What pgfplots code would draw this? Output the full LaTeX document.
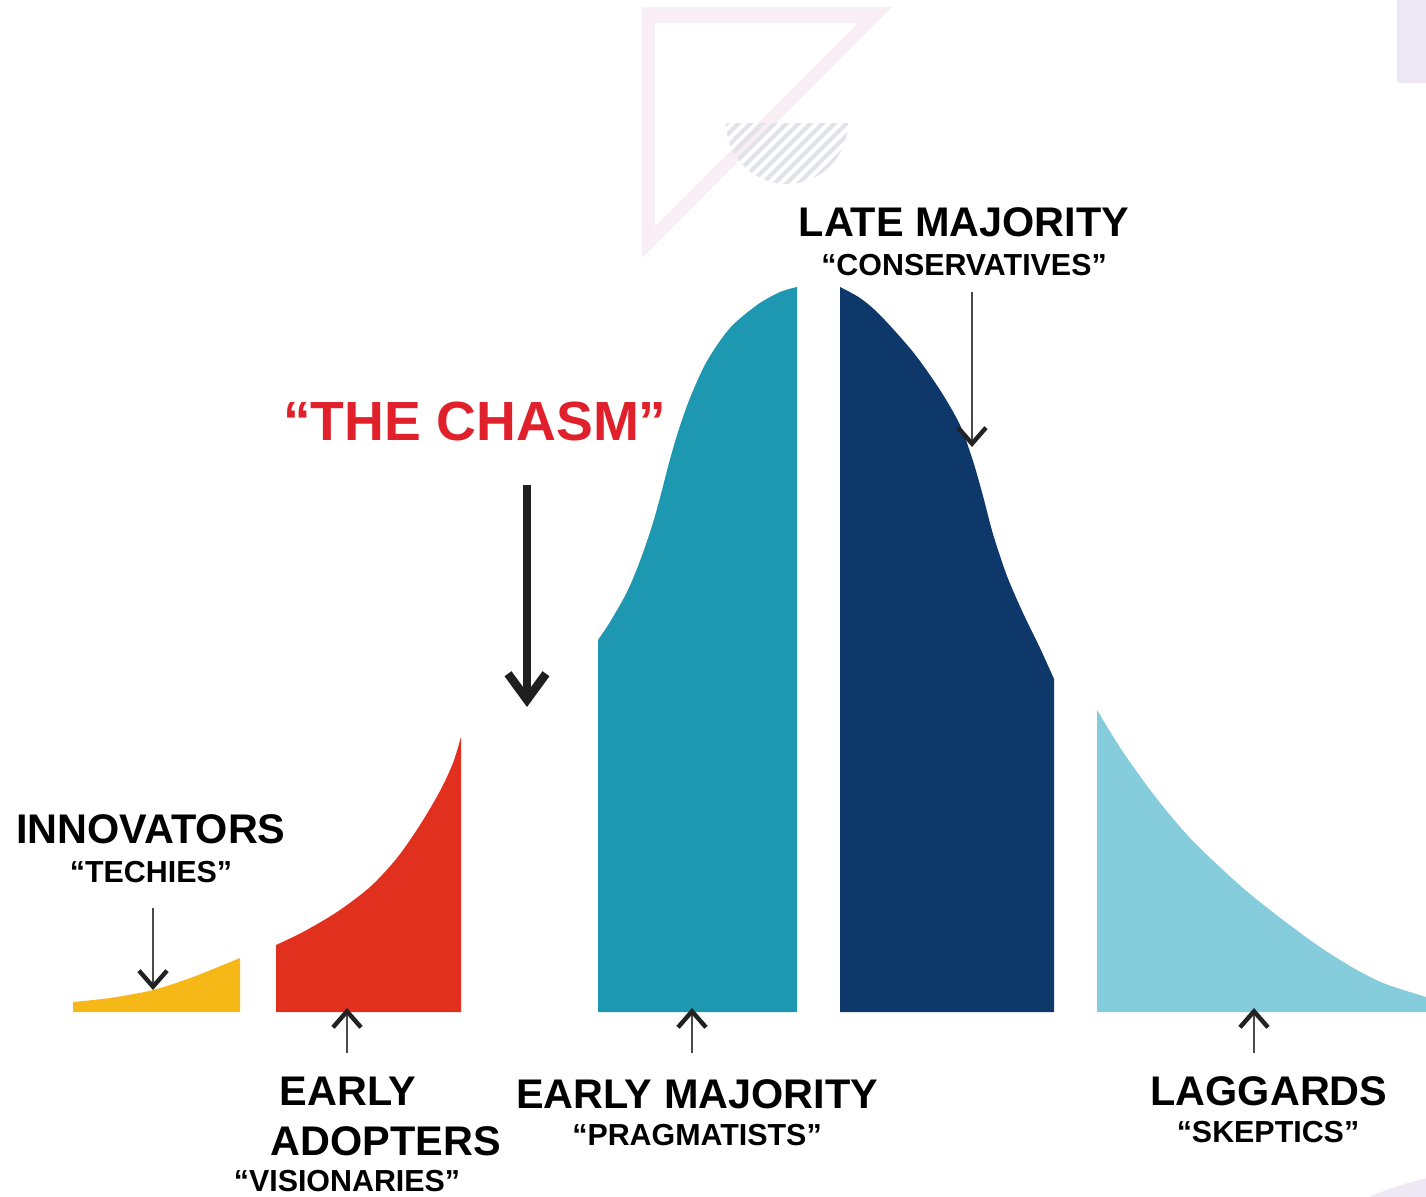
\documentclass[border=0pt]{standalone}
\usepackage{fontspec}
\setmainfont{Liberation Sans}
\usepackage{pgfplots}
\pgfplotsset{compat=1.18}
\usetikzlibrary{arrows.meta}
\definecolor{cYel}{HTML}{F5B817}
\definecolor{cRed}{HTML}{E2301F}
\definecolor{cTeal}{HTML}{1E98B0}
\definecolor{cNavy}{HTML}{0E376A}
\definecolor{cLight}{HTML}{85CDDD}
\definecolor{cChasm}{HTML}{E0202A}
\definecolor{cPink}{HTML}{F8EEF4}
\definecolor{cHatch}{HTML}{E2E2EA}
\definecolor{cLav}{HTML}{EEE8F5}
\definecolor{cShaft}{HTML}{4A4A4A}
\definecolor{cHead}{HTML}{222222}
\newcommand{\biglab}{\fontsize{20.7}{24}\bfseries\selectfont}
\newcommand{\sublab}{\fontsize{15.2}{18}\bfseries\selectfont}
\tikzset{thinarrow/.style={cShaft, line width=1.2pt, -{Straight Barb[length=8pt,width=14pt,line width=2.2pt,color=cHead]}}}
\begin{document}
\begin{tikzpicture}
\begin{axis}[
  scale only axis, width=713pt, height=598pt,
  xmin=0, xmax=1426, ymin=-184, ymax=1012,
  hide axis, clip=false]
% decorations
\fill[cPink, even odd rule] (axis cs:642,1005) -- (axis cs:892,1005) -- (axis cs:642,754) -- cycle
  (axis cs:655,989) -- (axis cs:858,989) -- (axis cs:655,785) -- cycle;
\begin{scope}
\clip (axis cs:726,889) arc[start angle=180, end angle=360, radius=30.5pt] -- cycle;
\pgfplotsinvokeforeach{-132,-120,-108,-96,-84,-72,-60,-48,-36,-24,-12,0,12,24,36,48,60,72,84,96,108,120,132}{
  \draw[cHatch, line width=2pt] (axis cs:{787+#1-80},809) -- (axis cs:{787+#1+80},969);
}
\end{scope}
\fill[cLav] (axis cs:1397,1012) rectangle (axis cs:1430,929);
\fill[cLav] (axis cs:1500,-488) circle[radius=165pt];
% segments (height above baseline)
\addplot[draw=none, fill=cYel, smooth] coordinates {
 (73,10) (110,14) (153,22) (193,35) (240,54)} \closedcycle;
\addplot[draw=none, fill=cRed, smooth] coordinates {
 (276,67) (303,80) (337,100) (370,125) (397,154) (420,187) (440,221) (453,249) (461,275)} \closedcycle;
\addplot[draw=none, fill=cTeal, smooth] coordinates {
 (598,372) (610,390) (627,420) (640,451) (652,486) (661,518) (669,549) (678,580) (690,614) (707,651) (730,684) (757,707) (780,720) (797,725)} \closedcycle;
\addplot[draw=none, fill=cNavy, smooth] coordinates {
 (840,725) (860,714) (880,697) (913,660) (940,622) (960,587) (973,551) (983,516) (993,478) (1007,436) (1023,399) (1040,364) (1054,333)} \closedcycle;
\addplot[draw=none, fill=cLight, smooth] coordinates {
 (1097,302) (1123,260) (1157,213) (1190,174) (1223,142) (1250,118) (1283,92) (1317,67) (1350,46) (1383,29) (1426,15)} \closedcycle;
% arrows
\draw[thinarrow] (axis cs:153,104) -- (axis cs:153,22);
\draw[thinarrow] (axis cs:347,-41) -- (axis cs:347,4);
\draw[thinarrow] (axis cs:692,-41) -- (axis cs:692,4);
\draw[thinarrow] (axis cs:1254,-41) -- (axis cs:1254,4);
\draw[thinarrow] (axis cs:972,720) -- (axis cs:972,565);
\draw[black!88, line width=4.3pt, -{Straight Barb[length=13pt,width=19pt,line width=4.3pt]}] (axis cs:527,527) -- (axis cs:527,305);
% labels
\node[anchor=base, inner sep=0pt, font=\biglab] at (axis cs:151,169) {INNOVATORS};
\node[anchor=base, inner sep=0pt, font=\sublab] at (axis cs:151,130) {“TECHIES”};
\node[anchor=base, inner sep=0pt, font=\biglab] at (axis cs:964,776) {LATE MAJORITY};
\node[anchor=base, inner sep=0pt, font=\sublab] at (axis cs:964,737) {“CONSERVATIVES”};
\node[anchor=base, inner sep=0pt, font=\fontsize{27.6}{32}\bfseries\selectfont, text=cChasm] at (axis cs:475,572) {“THE CHASM”};
\node[anchor=base, inner sep=0pt, font=\biglab] at (axis cs:348,-93) {EARLY};
\node[anchor=base, inner sep=0pt, font=\biglab] at (axis cs:386,-143) {ADOPTERS};
\node[anchor=base, inner sep=0pt, font=\sublab] at (axis cs:347,-179) {“VISIONARIES”};
\node[anchor=base, inner sep=0pt, font=\biglab] at (axis cs:697,-96) {EARLY MAJORITY};
\node[anchor=base, inner sep=0pt, font=\sublab] at (axis cs:697,-133) {“PRAGMATISTS”};
\node[anchor=base, inner sep=0pt, font=\biglab] at (axis cs:1269,-93) {LAGGARDS};
\node[anchor=base, inner sep=0pt, font=\sublab] at (axis cs:1268,-130) {“SKEPTICS”};
\end{axis}
\pgfresetboundingbox
\path[use as bounding box] (current axis.south west) rectangle (current axis.north east);
\end{tikzpicture}
\end{document}
